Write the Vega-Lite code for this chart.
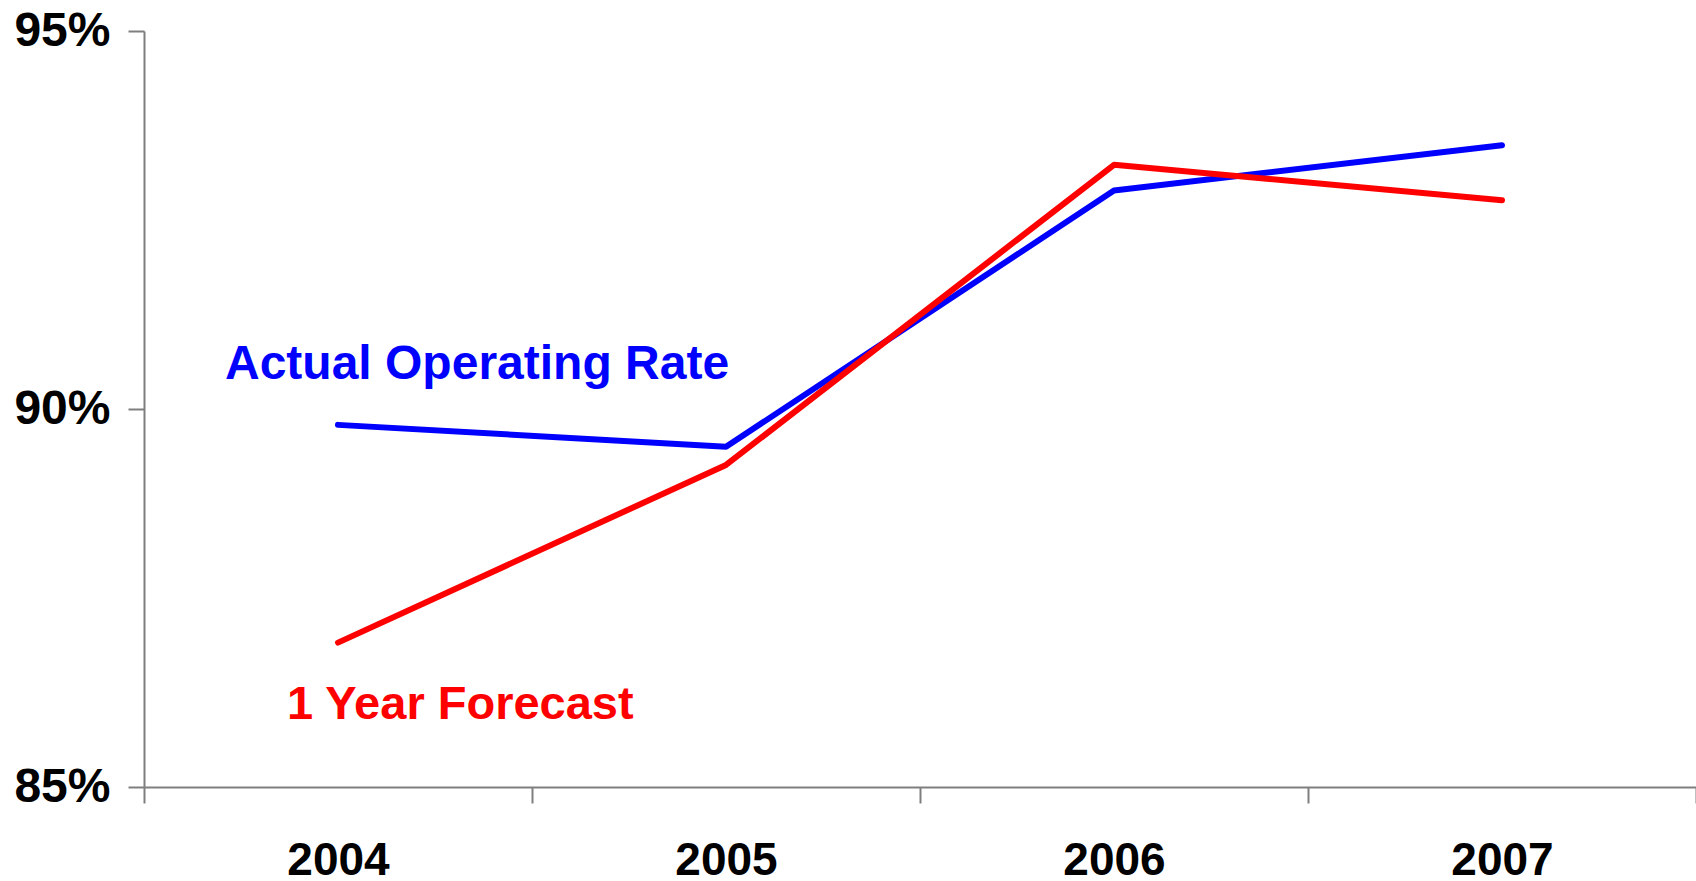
{
  "$schema": "https://vega.github.io/schema/vega-lite/v6.json",
  "width": 1552,
  "height": 756,
  "autosize": {"type": "none"},
  "padding": {"left": 144, "top": 31, "right": 0, "bottom": 94},
  "background": "white",
  "config": {
    "view": {"stroke": null},
    "axis": {
      "domainColor": "#7f7f7f",
      "domainWidth": 2,
      "tickColor": "#7f7f7f",
      "tickWidth": 2,
      "tickSize": 16,
      "grid": false,
      "labelFont": "Liberation Sans",
      "labelFontWeight": "bold",
      "labelFontSize": 47,
      "labelColor": "#000000",
      "title": null
    }
  },
  "data": {
    "values": [
      {"series": "Actual Operating Rate", "year": "2004", "rate": 89.79},
      {"series": "Actual Operating Rate", "year": "2005", "rate": 89.50},
      {"series": "Actual Operating Rate", "year": "2006", "rate": 92.89},
      {"series": "Actual Operating Rate", "year": "2007", "rate": 93.49},
      {"series": "1 Year Forecast", "year": "2004", "rate": 86.91},
      {"series": "1 Year Forecast", "year": "2005", "rate": 89.26},
      {"series": "1 Year Forecast", "year": "2006", "rate": 93.23},
      {"series": "1 Year Forecast", "year": "2007", "rate": 92.76}
    ]
  },
  "encoding": {
    "x": {
      "field": "year",
      "type": "ordinal",
      "scale": {"type": "band", "paddingInner": 0, "paddingOuter": 0},
      "axis": {"labelAngle": 0, "tickBand": "extent", "labelPadding": 35, "labelFontSize": 46}
    },
    "y": {
      "field": "rate",
      "type": "quantitative",
      "scale": {"domain": [85, 95], "nice": false, "zero": false},
      "axis": {"values": [85, 90, 95], "labelExpr": "datum.value + '%'", "labelPadding": 18, "labelFontSize": 48}
    },
    "color": {
      "field": "series",
      "type": "nominal",
      "scale": {"domain": ["Actual Operating Rate", "1 Year Forecast"], "range": ["#0000ff", "#ff0000"]},
      "legend": null
    }
  },
  "layer": [
    {
      "transform": [{"filter": "datum.series === 'Actual Operating Rate'"}],
      "mark": {"type": "line", "strokeWidth": 6, "strokeCap": "round", "strokeJoin": "round"}
    },
    {
      "transform": [{"filter": "datum.series === '1 Year Forecast'"}],
      "mark": {"type": "line", "strokeWidth": 6, "strokeCap": "round", "strokeJoin": "round"}
    },
    {
      "transform": [{"filter": "datum.series === 'Actual Operating Rate' && datum.year === '2004'"}],
      "mark": {"type": "text", "align": "left", "baseline": "alphabetic", "dx": -113, "dy": -46, "font": "Liberation Sans", "fontWeight": "bold", "fontSize": 48},
      "encoding": {"text": {"field": "series"}}
    },
    {
      "transform": [{"filter": "datum.series === '1 Year Forecast' && datum.year === '2004'"}],
      "mark": {"type": "text", "align": "left", "baseline": "alphabetic", "dx": -51, "dy": 76, "font": "Liberation Sans", "fontWeight": "bold", "fontSize": 47},
      "encoding": {"text": {"field": "series"}}
    }
  ]
}
